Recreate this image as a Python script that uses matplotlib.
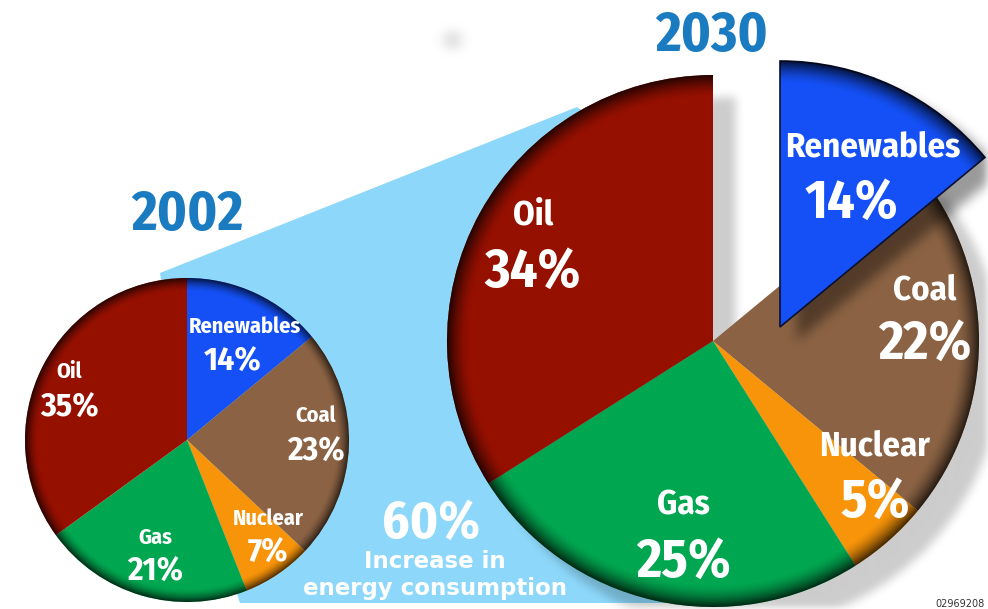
import numpy as np
import matplotlib
matplotlib.use('Agg')
import matplotlib.pyplot as plt
from matplotlib.patches import Polygon
from matplotlib import font_manager

W, H = 988, 609

sources = ['Renewables', 'Coal', 'Nuclear', 'Gas', 'Oil']
share_2002 = [14, 23, 7, 21, 35]
share_2030 = [14, 22, 5, 25, 34]
colors = ['#1450F5', '#8B6344', '#F7940A', '#00A650', '#961000']
years = ['2002', '2030']
increase_pct = 60

names = {f.name for f in font_manager.fontManager.ttflist}
NARROW = 'DejaVu Sans'
for cand in ['Fira Sans Condensed', 'PT Sans Narrow', 'Barlow Semi Condensed',
             'Archivo Narrow', 'Roboto Condensed']:
    if cand in names:
        NARROW = cand
        break

fig = plt.figure(figsize=(W / 100, H / 100), dpi=100)
ax = fig.add_axes([0, 0, 1, 1])


def py(y):
    # pixel row -> data y (y axis points up)
    return H - y


def box_blur(a, r, passes=3):
    k = np.ones(2 * r + 1) / (2 * r + 1)
    for _ in range(passes):
        a = np.apply_along_axis(lambda m: np.convolve(m, k, mode='same'), 0, a)
        a = np.apply_along_axis(lambda m: np.convolve(m, k, mode='same'), 1, a)
    return a


def shift(a, dx, dy):
    out = np.zeros_like(a)
    out[dy:, dx:] = a[:a.shape[0] - dy, :a.shape[1] - dx]
    return out


def shadow_image(mask, alpha, z, gray=0.0):
    img = np.zeros(mask.shape + (4,))
    img[..., :3] = gray
    img[..., 3] = np.clip(mask, 0, 1) * alpha
    ax.imshow(img, extent=[0, W, 0, H], origin='upper', zorder=z,
              interpolation='bilinear')


def rim_shade(w, rim, strength):
    cx, cy = w.center
    r = w.r
    xs = np.arange(cx - r - 2, cx + r + 2)
    ys = np.arange(cy - r - 2, cy + r + 2)
    X, Y = np.meshgrid(xs, ys)
    d = np.hypot(X - cx, Y - cy)
    a = np.clip((d - (r - rim)) / rim, 0, 1) ** 1.6 * strength
    img = np.zeros(X.shape + (4,))
    img[..., 3] = a
    im = ax.imshow(img, extent=[xs[0], xs[-1], ys[0], ys[-1]], origin='lower',
                   zorder=w.get_zorder() + 0.5, interpolation='bilinear')
    im.set_clip_path(w)


# light blue "growth" cone behind the pies
cone = Polygon([(160, py(273)), (577, py(107)), (712, py(200)), (712, py(603)),
                (240, py(603)), (187, py(440))], closed=True,
               facecolor='#8DD8FA', edgecolor='none', zorder=1)
ax.add_patch(cone)

# 2002 pie
small_c, small_r = (187, py(440)), 162
w_small, _ = ax.pie(share_2002, colors=colors, startangle=90, counterclock=False,
                    center=small_c, radius=small_r, frame=True,
                    wedgeprops=dict(linewidth=0))
for w in w_small:
    w.set_zorder(3)
    rim_shade(w, 13, 0.7)

# 2030 pie, renewables slice pulled out
big_c, big_r = (713, py(341)), 266
ren_off = (67, 14)
w_big, _ = ax.pie(share_2030, colors=colors, startangle=90, counterclock=False,
                  center=big_c, radius=big_r, frame=True,
                  wedgeprops=dict(linewidth=0))
for w in w_big:
    w.set_zorder(4)
ren = w_big[0]
ren.set_center((big_c[0] + ren_off[0], big_c[1] + ren_off[1]))
ren.set_zorder(6)
ren.set_edgecolor('#0A1030')
ren.set_linewidth(1.2)
for w in w_big:
    rim_shade(w, 22, 0.75)

# drop shadows (pixel grid, row 0 = top)
gx, gy = np.meshgrid(np.arange(W) + 0.5, np.arange(H) + 0.5)
t1, t2 = ren.theta1, ren.theta2
cxp, cyp = big_c[0], H - big_c[1]
ang = np.degrees(np.arctan2(cyp - gy, gx - cxp)) % 360
in_big = (np.hypot(gx - cxp, gy - cyp) < big_r) & ~((ang >= t1) & (ang <= t2))
rxp, ryp = cxp + ren_off[0], cyp - ren_off[1]
ang_r = np.degrees(np.arctan2(ryp - gy, gx - rxp)) % 360
in_ren = (np.hypot(gx - rxp, gy - ryp) < big_r) & (ang_r >= t1) & (ang_r <= t2)
pie_sh = box_blur(shift(in_big.astype(float), 22, 22), 4)
ren_sh = box_blur(shift(in_ren.astype(float), 16, 14), 5)
shadow_image(pie_sh, 0.2, 2)
shadow_image(ren_sh, 0.4, 5)

# faint smudge at the top
smudge = box_blur((np.hypot(gx - 452, gy - 40) < 9).astype(float), 5)
shadow_image(smudge, 0.25, 2, gray=0.45)

# labels
lbl = dict(color='white', fontweight='bold', ha='center', va='center',
           family=[NARROW, 'DejaVu Sans'], zorder=10)

small_pos = [(245, 327, 362), (316, 416, 452), (268, 519, 553),
             (155, 538, 572), (69, 372, 408)]
for name, val, (x, y1, y2) in zip(sources, share_2002, small_pos):
    ax.text(x, py(y1), name, fontsize=16, **lbl)
    ax.text(x if name != 'Renewables' else x - 12, py(y2), f'{val}%',
            fontsize=24, **lbl)

big_pos = [(873, 147, 203), (925, 290, 344), (875, 446, 502),
           (683, 505, 562), (533, 215, 272)]
for name, val, (x, y1, y2) in zip(sources, share_2030, big_pos):
    ax.text(x, py(y1), name, fontsize=25, **lbl)
    ax.text(x if name != 'Renewables' else x - 22, py(y2), f'{val}%',
            fontsize=39, **lbl)

ttl = dict(color='#1B7BC1', fontweight='bold', ha='center', va='center',
           family=[NARROW, 'DejaVu Sans'], fontsize=40, zorder=10)
ax.text(187, py(215), years[0], **ttl)
ax.text(712, py(36), years[1], **ttl)

ax.text(431, py(524), f'{increase_pct}%', fontsize=38, **lbl)
ax.text(435, py(562), 'Increase in', color='white', fontweight='bold',
        ha='center', va='center', fontsize=16.5, zorder=10)
ax.text(435, py(589), 'energy consumption', color='white', fontweight='bold',
        ha='center', va='center', fontsize=16.5, zorder=10)

ax.text(985, py(604), '02969208', color='#333333', fontsize=7,
        ha='right', va='center', zorder=10)

ax.set_xlim(0, W)
ax.set_ylim(0, H)
ax.set_aspect('auto')
ax.axis('off')

fig.savefig('out.png', dpi=100)
